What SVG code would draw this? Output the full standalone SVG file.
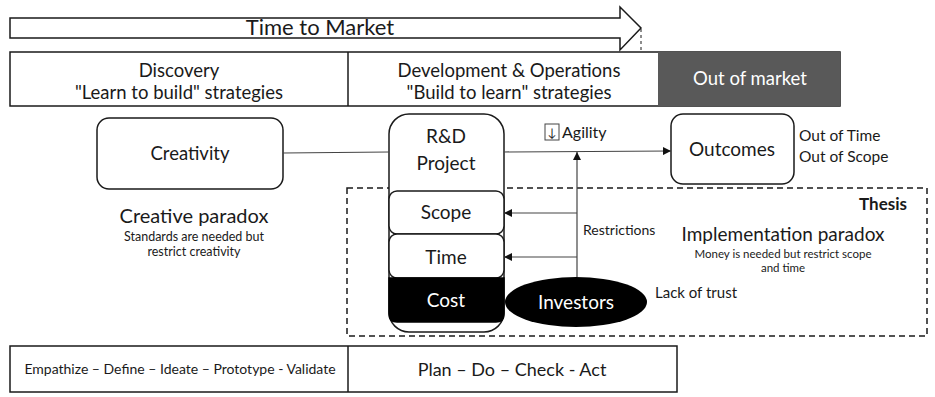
<svg xmlns="http://www.w3.org/2000/svg" width="935" height="397" viewBox="0 0 935 397">
<defs>
<style>
text{font-family:Lato,"Open Sans","Liberation Sans",sans-serif;fill:#1a1a1a}
.c{text-anchor:middle}
.box{fill:#fff;stroke:#1a1a1a;stroke-width:1.5}
.ln{stroke:#444;stroke-width:1.2;fill:none}
.wt{fill:#fff}
</style>
<marker id="ah" viewBox="0 0 10 10" refX="10" refY="5" markerWidth="8" markerHeight="8" orient="auto-start-reverse" markerUnits="userSpaceOnUse">
<path d="M0,0 L10,5 L0,10 Z" fill="#111"/>
</marker>
</defs>
<rect width="935" height="397" fill="#fff"/>

<g id="time-to-market">
<path d="M10,18 H620 V7 L641,28 L620,50 V38 H10 Z" fill="#fff" stroke="#1a1a1a" stroke-width="1.5"/>
<line x1="641" y1="29" x2="641" y2="52" stroke="#1a1a1a" stroke-width="1" stroke-dasharray="3,3"/>
<text x="320" y="35" class="c" font-size="22">Time to Market</text>
</g>

<g id="phases">
<rect x="10" y="52" width="830" height="54" class="box"/>
<line x1="348" y1="52" x2="348" y2="106" stroke="#1a1a1a" stroke-width="1.5"/>
<rect x="658" y="52" width="182" height="54" fill="#595959"/>
<text x="179" y="77" class="c" font-size="18.5">Discovery</text>
<text x="179" y="99" class="c" font-size="18.5">"Learn to build" strategies</text>
<text x="509" y="77" class="c" font-size="18.5">Development &amp; Operations</text>
<text x="509" y="99" class="c" font-size="18.5">"Build to learn" strategies</text>
<text x="750" y="85" class="c wt" font-size="18.5" style="fill:#fff">Out of market</text>
</g>

<g id="thesis">
<rect x="347" y="188" width="580" height="148" fill="none" stroke="#1a1a1a" stroke-width="1.5" stroke-dasharray="6,4"/>
<text x="907" y="210" font-size="17" font-weight="bold" text-anchor="end">Thesis</text>
<text x="783" y="241" class="c" font-size="19">Implementation paradox</text>
<text x="783" y="258" class="c" font-size="11.5">Money is needed but restrict scope</text>
<text x="783" y="272" class="c" font-size="11.5">and time</text>
</g>

<g id="creativity">
<rect x="97" y="118" width="186" height="71" rx="12" class="box"/>
<text x="190" y="160" class="c" font-size="18.5">Creativity</text>
</g>

<g id="creative-paradox">
<text x="194" y="223" class="c" font-size="20">Creative paradox</text>
<text x="194" y="241" class="c" font-size="12.5">Standards are needed but</text>
<text x="194" y="256" class="c" font-size="12.5">restrict creativity</text>
</g>

<g id="rd-project">
<rect x="389" y="114" width="115" height="218" rx="20" class="box"/>
<text x="446" y="143" class="c" font-size="19">R&amp;D</text>
<text x="446" y="170" class="c" font-size="19">Project</text>
</g>

<g id="scope">
<rect x="389" y="191" width="115" height="43" rx="8" class="box"/>
<text x="446" y="219" class="c" font-size="19">Scope</text>
</g>

<g id="time">
<rect x="389" y="234" width="115" height="44" rx="8" class="box"/>
<text x="446" y="264" class="c" font-size="19">Time</text>
</g>

<g id="cost">
<path d="M389,278 H504 V314 Q504,322 496,322 H397 Q389,322 389,314 Z" fill="#000" stroke="#000" stroke-width="1.5"/>
<text x="446" y="307" class="c" font-size="19" style="fill:#fff">Cost</text>
</g>

<g id="investors">
<ellipse cx="576" cy="302" rx="71" ry="25" fill="#000"/>
<text x="576" y="309" class="c" font-size="19" style="fill:#fff">Investors</text>
<text x="655" y="298" font-size="15">Lack of trust</text>
</g>

<g id="outcomes">
<rect x="671" y="114" width="123" height="70" rx="12" class="box"/>
<text x="732" y="156" class="c" font-size="19">Outcomes</text>
<text x="799" y="141" font-size="15.5">Out of Time</text>
<text x="799" y="162" font-size="15.5">Out of Scope</text>
</g>

<g id="connectors">
<line x1="283" y1="153" x2="389" y2="152" class="ln"/>
<line x1="504" y1="152" x2="671" y2="151" class="ln" marker-end="url(#ah)"/>
<line x1="577" y1="277" x2="577" y2="152" class="ln" marker-end="url(#ah)"/>
<line x1="577" y1="213" x2="504" y2="213" class="ln" marker-end="url(#ah)"/>
<line x1="577" y1="257" x2="504" y2="257" class="ln" marker-end="url(#ah)"/>
<rect x="545" y="124" width="14" height="16" fill="#fff" stroke="#444" stroke-width="1"/>
<text x="552" y="137" class="c" font-size="12">↓</text>
<text x="562" y="138" font-size="16">Agility</text>
<text x="583" y="235" font-size="14">Restrictions</text>
</g>

<g id="methods">
<rect x="10" y="346" width="667" height="46" class="box"/>
<line x1="348" y1="346" x2="348" y2="392" stroke="#1a1a1a" stroke-width="1.5"/>
<text x="180" y="374" class="c" font-size="14">Empathize – Define – Ideate – Prototype - Validate</text>
<text x="512" y="376" class="c" font-size="18">Plan – Do – Check - Act</text>
</g>
</svg>
